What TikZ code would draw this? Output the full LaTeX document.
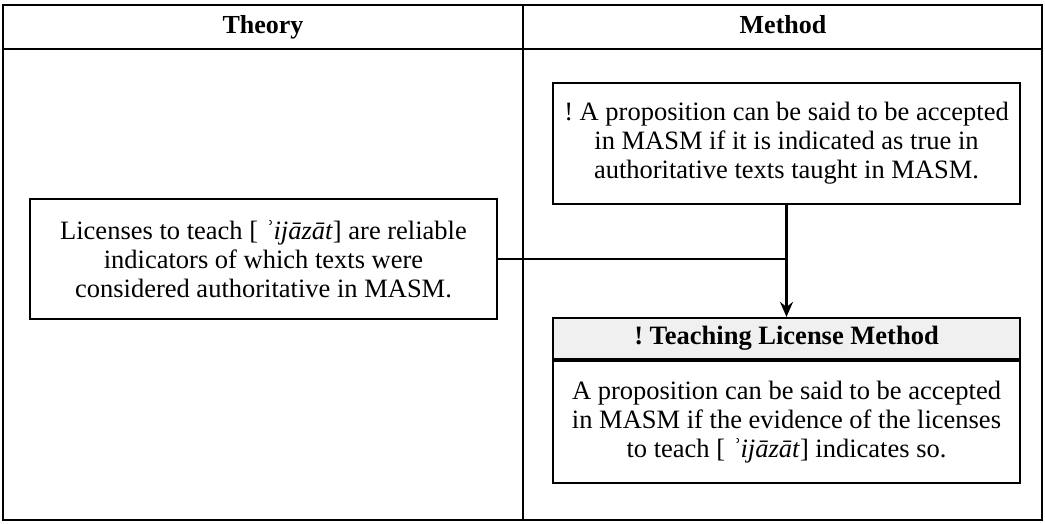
\documentclass[tikz,border=0pt]{standalone}
\usepackage{fontspec}
\setmainfont{Liberation Serif}
\usetikzlibrary{arrows.meta}

\newcommand{\boxfont}{\fontsize{26.5}{29}\selectfont\frenchspacing}

\tikzset{
  frame/.style={line width=2.6pt},
  rule/.style={line width=2.6pt},
  card/.style={draw, line width=2.2pt, align=center, inner sep=0pt,
    minimum width=467pt, font=\boxfont},
  cardhead/.style={card, fill=black!6, font=\boxfont\bfseries},
  colhead/.style={font=\fontsize{26}{28}\selectfont\bfseries, anchor=base},
  link/.style={line width=2.2pt},
  flow/.style={line width=2.2pt, -{Stealth[length=15pt,width=13pt,inset=5pt]}}
}

\begin{document}
\begin{tikzpicture}[x=1pt, y=-1pt]
  \useasboundingbox (0,0) rectangle (1045,523);

  % table outline, header rule and column divider
  \draw[frame] (3,5) rectangle (1042,520);
  \draw[rule] (3,49) -- (1042,49);
  \draw[rule] (523,5) -- (523,520);

  \node[colhead] (thHead) at (263,33) {Theory};
  \node[colhead] (mHead) at (783,33) {Method};

  % theory column
  \node[card, minimum height=120pt] (theory) at (263.5,259)
    {Licenses to teach [ \textit{ʾijāzāt}] are reliable\\
     indicators of which texts were\\
     considered authoritative in MASM.};

  % method column
  \node[card, minimum height=121pt] (premise) at (786.5,143.5)
    {! A proposition can be said to be accepted\\
     in MASM if it is indicated as true in\\
     authoritative texts taught in MASM.};

  \node[cardhead, minimum height=41pt] (methodHead) at (786.5,338.5)
    {! Teaching License Method};
  \node[card, minimum height=122pt, anchor=north] (methodBody) at (methodHead.south)
    {A proposition can be said to be accepted\\
     in MASM if the evidence of the licenses\\
     to teach [ \textit{ʾijāzāt}] indicates so.};

  % connectors
  \coordinate (join) at (premise.south |- theory.east);
  \draw[link] (theory.east) -- (join);
  \draw[flow] (premise.south) -- (methodHead.north);
\end{tikzpicture}
\end{document}
